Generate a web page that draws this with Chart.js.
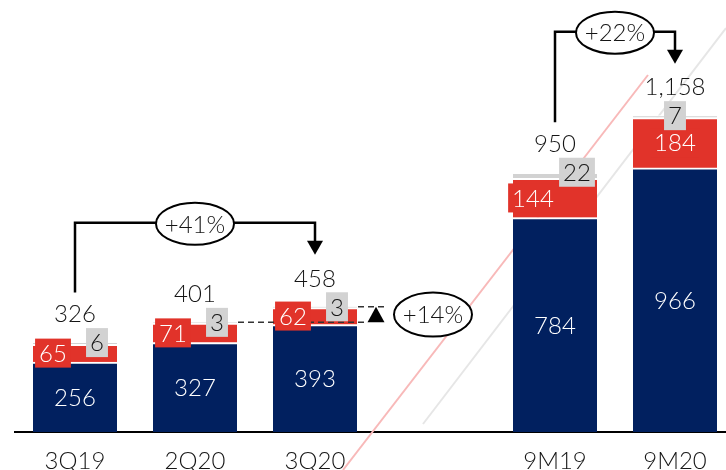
<!DOCTYPE html>
<html>
<head>
<meta charset="utf-8">
<script src="https://cdn.jsdelivr.net/npm/chart.js@4.4.0/dist/chart.umd.min.js"></script>
<style>
  html, body { margin: 0; padding: 0; background: #fff; }
</style>
</head>
<body>
<canvas id="salesChart" width="726" height="470"></canvas>
<script>
// quarterly / nine-month figures
const categories = ['3Q19', '2Q20', '3Q20', '9M19', '9M20'];
const slots = [0, 1, 2, 4, 5];             // empty slot 3 separates the 9M bars
const coreValues = [256, 327, 393, 784, 966];
const redValues = [65, 71, 62, 144, 184];
const greyValues = [6, 3, 3, 22, 7];
const totalLabels = ['326', '401', '458', '950', '1,158'];
const growthLabels = ['+41%', '+22%', '+14%'];

const NAVY = '#01205F';
const RED = '#E1332A';
const GREY = '#D2D2D2';
const INK = '#151515';
const FONT = '300 24px Lato, "Open Sans", sans-serif';

// red/grey tags sit at the bar edges except on the last bar
const splitTags = [true, true, true, true, false];

function points(values) {
  return values.map((v, i) => ({ x: slots[i], y: v }));
}

function tag(ctx, text, x, y, fill, color, pad) {
  const w = ctx.measureText(text).width + pad * 2;
  const h = 29;
  ctx.fillStyle = fill;
  ctx.fillRect(x - w / 2, y - h / 2, w, h);
  ctx.fillStyle = color;
  ctx.fillText(text, x, y + 1);
}

function bubble(ctx, x, y, rx, ry, text) {
  ctx.beginPath();
  ctx.ellipse(x, y, rx, ry, 0, 0, Math.PI * 2);
  ctx.fillStyle = '#fff';
  ctx.fill();
  ctx.lineWidth = 2;
  ctx.strokeStyle = '#000';
  ctx.stroke();
  ctx.fillStyle = INK;
  ctx.fillText(text, x, y + 1);
}

function bracket(ctx, a, b, text) {
  const top = Math.min(a.y, b.y) - 84;
  const tip = b.y - 52;
  ctx.beginPath();
  ctx.moveTo(a.x, a.y - 50);
  ctx.lineTo(a.x, top);
  ctx.lineTo(b.x, top);
  ctx.lineTo(b.x, tip - 12);
  ctx.lineWidth = 2.5;
  ctx.strokeStyle = '#000';
  ctx.stroke();
  ctx.beginPath();
  ctx.moveTo(b.x - 8, tip - 14);
  ctx.lineTo(b.x + 8, tip - 14);
  ctx.lineTo(b.x, tip);
  ctx.closePath();
  ctx.fillStyle = '#000';
  ctx.fill();
  bubble(ctx, (a.x + b.x) / 2, top + 1, 39, 21, text);
}

const stackLabels = {
  id: 'stackLabels',
  beforeDatasetsDraw(chart) {
    // decorative slashes behind the bars
    const ctx = chart.ctx;
    ctx.save();
    ctx.lineWidth = 2;
    ctx.strokeStyle = '#F8B9B9';
    ctx.beginPath();
    ctx.moveTo(343, 470);
    ctx.lineTo(648, 75);
    ctx.stroke();
    ctx.strokeStyle = '#E6E6E6';
    ctx.beginPath();
    ctx.moveTo(423, 424);
    ctx.lineTo(726, 28);
    ctx.stroke();
    ctx.restore();
  },
  afterDatasetsDraw(chart) {
    const ctx = chart.ctx;
    const core = chart.getDatasetMeta(0).data;
    const red = chart.getDatasetMeta(1).data;
    const grey = chart.getDatasetMeta(2).data;
    ctx.save();
    ctx.font = FONT;
    ctx.textAlign = 'center';
    ctx.textBaseline = 'middle';

    // +14% quarter-on-quarter step
    const q1 = grey[1], q2 = grey[2];
    const r2 = q2.x + q2.width / 2;
    const triX = r2 + 19;
    ctx.setLineDash([6, 4]);
    ctx.lineWidth = 1.5;
    ctx.strokeStyle = '#333';
    ctx.beginPath();
    ctx.moveTo(q1.x + q1.width / 2 + 1, q1.y);
    ctx.lineTo(triX - 8, q1.y);
    ctx.moveTo(r2 + 1, q2.y);
    ctx.lineTo(triX + 8, q2.y);
    ctx.stroke();
    ctx.setLineDash([]);
    ctx.beginPath();
    ctx.moveTo(triX - 8.5, q1.y);
    ctx.lineTo(triX + 8.5, q1.y);
    ctx.lineTo(triX, q2.y);
    ctx.closePath();
    ctx.fillStyle = '#000';
    ctx.fill();
    bubble(ctx, chart.scales.x.getPixelForValue(3) - 2, (q1.y + q2.y) / 2, 39, 22, growthLabels[2]);

    categories.forEach((c, i) => {
      const b = core[i], r = red[i], g = grey[i];
      const left = b.x - b.width / 2;
      const right = b.x + b.width / 2;
      ctx.fillStyle = '#fff';
      ctx.fillText(String(coreValues[i]), b.x, (b.y + b.base) / 2 + 1);
      tag(ctx, String(redValues[i]), splitTags[i] ? left + 20 : b.x, (r.y + r.base) / 2, RED, '#fff', 4);
      tag(ctx, String(greyValues[i]), splitTags[i] ? right - 20 : b.x, g.y, GREY, INK, 4);
      ctx.fillStyle = INK;
      ctx.fillText(totalLabels[i], b.x, g.y - 28);
    });

    bracket(ctx, grey[0], grey[2], growthLabels[0]);
    bracket(ctx, grey[3], grey[4], growthLabels[1]);
    ctx.restore();
  }
};

const segment = (label, values, color) => ({
  label,
  data: points(values),
  backgroundColor: color,
  borderColor: '#fff',
  borderWidth: { top: 2, right: 0, bottom: 0, left: 0 },
  barThickness: 84
});

new Chart(document.getElementById('salesChart'), {
  type: 'bar',
  data: {
    datasets: [
      segment('core', coreValues, NAVY),
      segment('red', redValues, RED),
      segment('grey', greyValues, GREY)
    ]
  },
  options: {
    responsive: false,
    animation: false,
    layout: { padding: { left: 15, right: 0, top: 0, bottom: 0 } },
    plugins: { legend: { display: false }, tooltip: { enabled: false } },
    scales: {
      x: {
        type: 'linear',
        stacked: true,
        offset: false,
        min: -0.5,
        max: 5.425,
        grid: { display: false },
        border: { display: true, color: '#000', width: 2 },
        afterBuildTicks: axis => { axis.ticks = slots.map(v => ({ value: v })); },
        afterFit: axis => { axis.height = 38; },
        ticks: {
          autoSkip: false,
          maxRotation: 0,
          padding: 7,
          color: INK,
          font: { family: 'Lato, "Open Sans", sans-serif', size: 24, weight: 300 },
          callback: (v, idx) => categories[idx]
        }
      },
      y: { display: false, stacked: true, min: 0, max: 1580 }
    }
  },
  plugins: [stackLabels]
});
</script>
</body>
</html>
